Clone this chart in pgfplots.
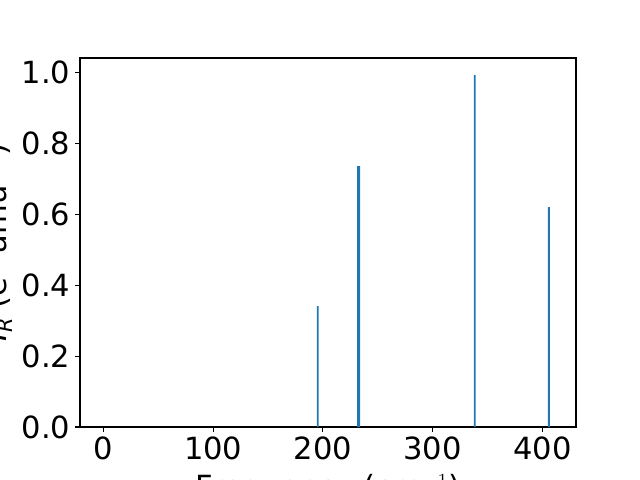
\documentclass[border=0pt]{standalone}
\usepackage{pgfplots}
\pgfplotsset{compat=1.18}
\usepackage{fontspec}
\setmainfont{DejaVu Sans}
\definecolor{tabblue}{HTML}{1F77B4}
\begin{document}
\begin{tikzpicture}
\path[use as bounding box] (-57.6pt,-38.16pt) rectangle ++(460.8pt,345.6pt);
\clip (-57.6pt,-38.16pt) rectangle ++(460.8pt,345.6pt);
\begin{axis}[
  at={(0,0)}, anchor=south west,
  scale only axis, width=357.12pt, height=265.68pt,
  xmin=-21.4, xmax=430.7, ymin=0, ymax=1.041,
  xtick={0,100,200,300,400},
  ytick={0,0.2,0.4,0.6,0.8,1.0},
  yticklabel style={/pgf/number format/.cd, fixed, fixed zerofill, precision=1},
  /pgf/number format/assume math mode=true,
  tick label style={font=\fontsize{22}{26}\selectfont},
  label style={font=\fontsize{22}{26}\selectfont},
  xlabel style={yshift=-3.6pt},
  xtick pos=bottom, ytick pos=left,
  tick align=outside, major tick length=3.5pt,
  every tick/.style={black, line width=0.8pt},
  axis line style={line width=0.8pt},
  xlabel={Frequency (cm$^{-1}$)},
  ylabel={{\itshape I}\raisebox{-0.35ex}{\fontsize{15}{17}\selectfont\itshape R} (e\textsuperscript{2} amu\textsuperscript{$-$1})},
  ybar, bar width=1.8,
]
\addplot[fill=tabblue, draw=none] coordinates {
 (195.3,0.341) (232.0,0.736) (233.0,0.736) (338.4,0.993) (406.0,0.620)
};
\end{axis}
\end{tikzpicture}
\end{document}
